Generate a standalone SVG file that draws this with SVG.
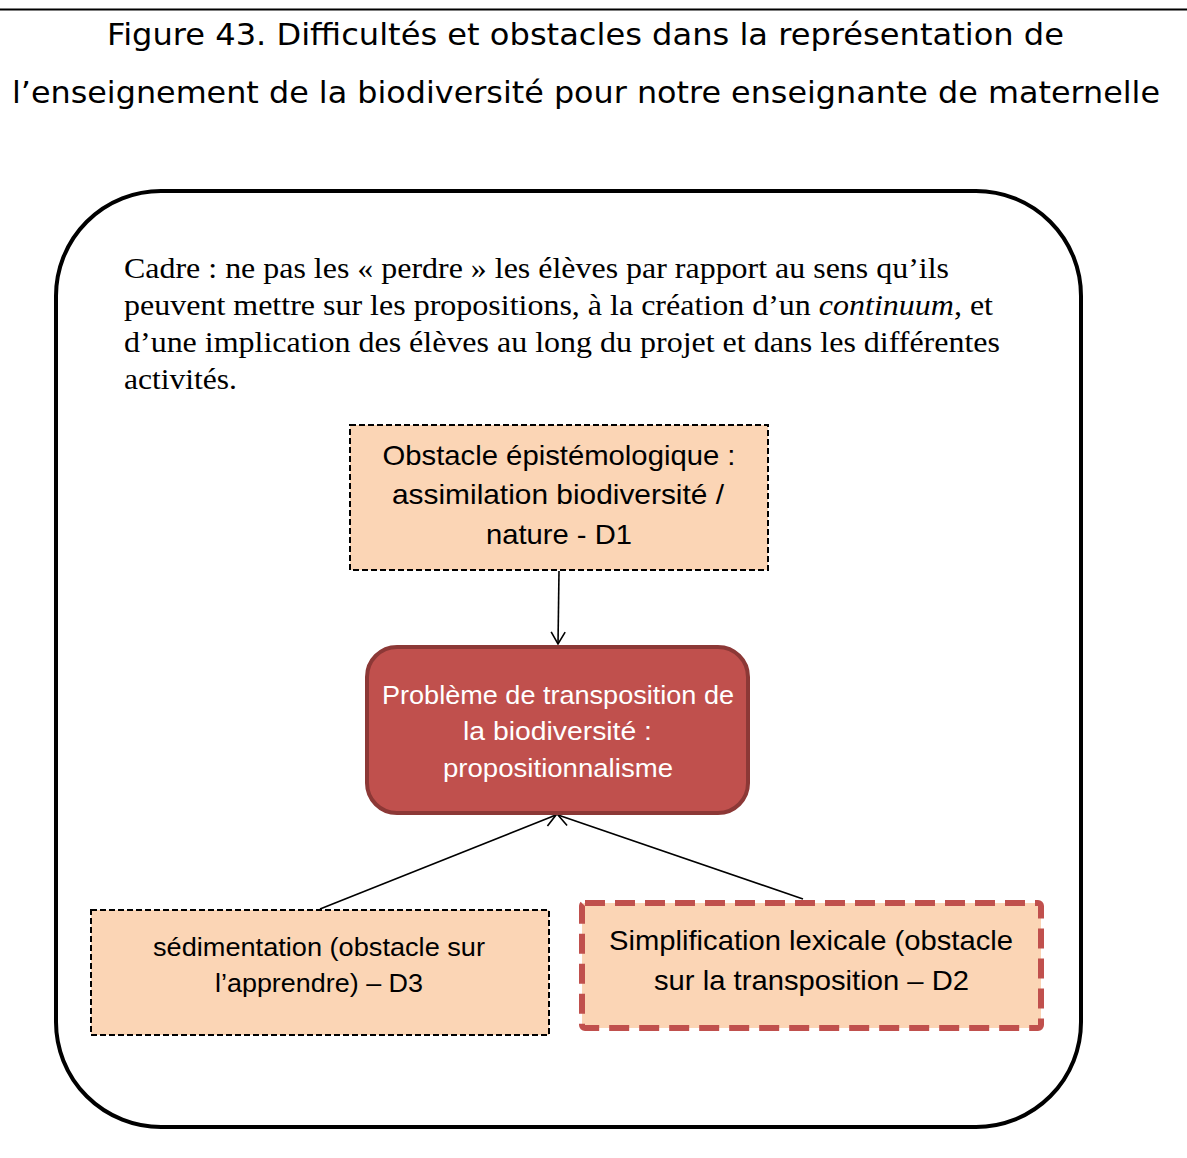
<svg xmlns="http://www.w3.org/2000/svg" width="1187" height="1158" viewBox="0 0 1187 1158">
<style>
.title{font-family:"DejaVu Sans",Verdana,sans-serif;font-size:31px;fill:#000}
.cadre{font-family:"Liberation Serif","Times New Roman",serif;font-size:30px;fill:#000}
.lbl{font-family:"Liberation Sans",Calibri,sans-serif;font-size:28px;fill:#000;text-anchor:middle}
.sm{font-size:26.5px}
.lblw{font-family:"Liberation Sans",Calibri,sans-serif;font-size:26.5px;fill:#fff;text-anchor:middle}
.peach{fill:#FBD5B5}
.dash{stroke:#000;stroke-width:2;stroke-dasharray:6 3}
.conn{stroke:#000;stroke-width:1.6;fill:none}
</style>
<defs>
<marker id="arr" markerWidth="16" markerHeight="16" refX="13" refY="8" orient="auto" markerUnits="userSpaceOnUse">
<path d="M1,1 L13,8 L1,15" fill="none" stroke="#000" stroke-width="1.6"/>
</marker>
</defs>
<rect width="1187" height="1158" fill="#fff"/>
<line x1="0" y1="9.5" x2="1187" y2="9.5" stroke="#000" stroke-width="2"/>
<text class="title" x="107" y="45" textLength="957" lengthAdjust="spacingAndGlyphs">Figure 43. Difficultés et obstacles dans la représentation de</text>
<text class="title" x="12" y="103" textLength="1148" lengthAdjust="spacingAndGlyphs">l’enseignement de la biodiversité pour notre enseignante de maternelle</text>
<g id="cadre">
<rect x="56" y="191" width="1025" height="936" rx="105" ry="105" fill="#fff" stroke="#000" stroke-width="4"/>
<text class="cadre" x="124" y="278" textLength="825" lengthAdjust="spacingAndGlyphs">Cadre : ne pas les « perdre » les élèves par rapport au sens qu’ils</text>
<text class="cadre" x="124" y="315" textLength="869" lengthAdjust="spacingAndGlyphs">peuvent mettre sur les propositions, à la création d’un <tspan font-style="italic">continuum</tspan>, et</text>
<text class="cadre" x="124" y="352" textLength="876" lengthAdjust="spacingAndGlyphs">d’une implication des élèves au long du projet et dans les différentes</text>
<text class="cadre" x="124" y="389" textLength="113" lengthAdjust="spacingAndGlyphs">activités.</text>
</g>
<g id="connectors">
<line class="conn" x1="559" y1="571" x2="558" y2="644" marker-end="url(#arr)"/>
<line class="conn" x1="320" y1="909" x2="556" y2="815" marker-end="url(#arr)"/>
<line class="conn" x1="803" y1="899" x2="558" y2="815" marker-end="url(#arr)"/>
</g>
<g id="d1">
<rect class="peach dash" x="350" y="425" width="418" height="145"/>
<text class="lbl" x="559" y="465" textLength="353" lengthAdjust="spacingAndGlyphs">Obstacle épistémologique :</text>
<text class="lbl" x="558" y="504" textLength="332" lengthAdjust="spacingAndGlyphs">assimilation biodiversité /</text>
<text class="lbl" x="559" y="544" textLength="146" lengthAdjust="spacingAndGlyphs">nature - D1</text>
</g>
<g id="probleme">
<rect x="367" y="647" width="381" height="166" rx="30" ry="30" fill="#C0504D" stroke="#8C3836" stroke-width="4"/>
<text class="lblw" x="558" y="704" textLength="352" lengthAdjust="spacingAndGlyphs">Problème de transposition de</text>
<text class="lblw" x="557.5" y="740" textLength="189" lengthAdjust="spacingAndGlyphs">la biodiversité  :</text>
<text class="lblw" x="558" y="777" textLength="230" lengthAdjust="spacingAndGlyphs">propositionnalisme</text>
</g>
<g id="d3">
<rect class="peach dash" x="91" y="910" width="458" height="125"/>
<text class="lbl sm" x="319" y="956" textLength="332" lengthAdjust="spacingAndGlyphs">sédimentation (obstacle sur</text>
<text class="lbl sm" x="319" y="992" textLength="208" lengthAdjust="spacingAndGlyphs">l’apprendre) – D3</text>
</g>
<g id="d2">
<rect x="582" y="903" width="459" height="125" rx="3" fill="#FBD5B5" stroke="#C0504D" stroke-width="6" stroke-dasharray="20 10"/>
<text class="lbl" x="811" y="950" textLength="404" lengthAdjust="spacingAndGlyphs">Simplification lexicale (obstacle</text>
<text class="lbl" x="811.5" y="990" textLength="315" lengthAdjust="spacingAndGlyphs">sur la transposition – D2</text>
</g>
</svg>
